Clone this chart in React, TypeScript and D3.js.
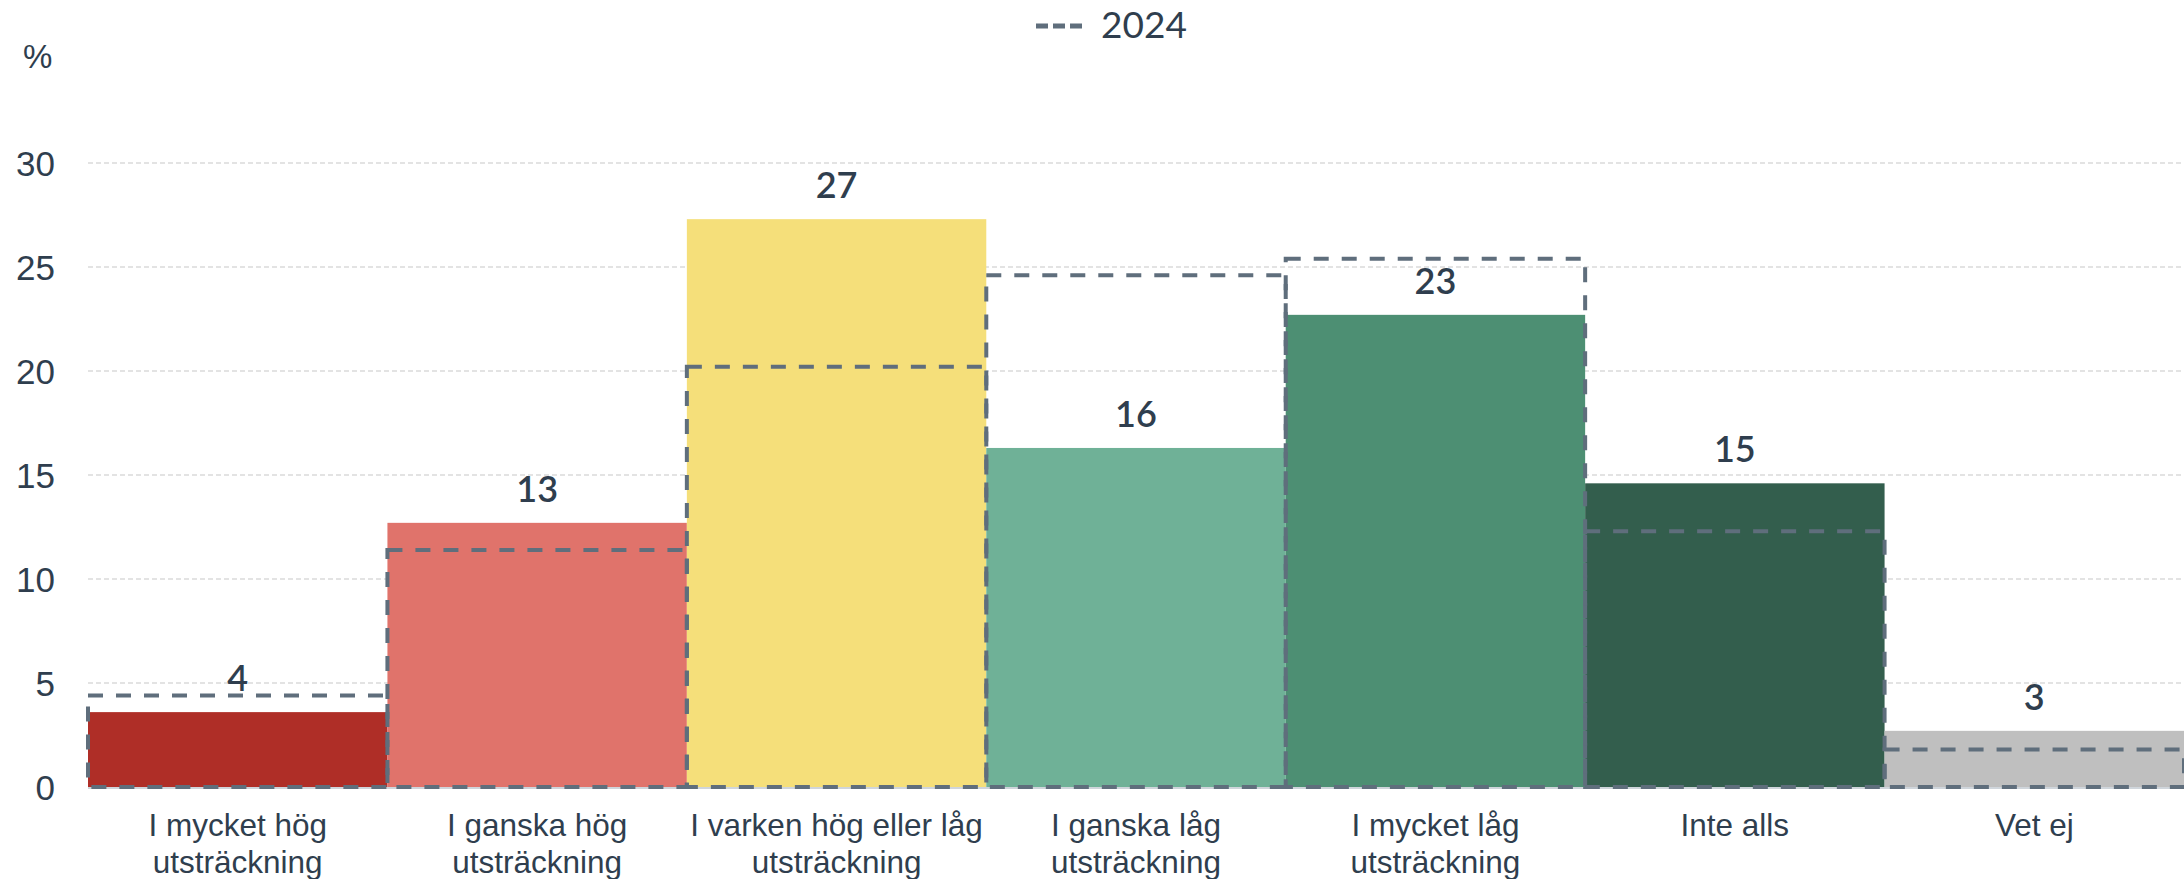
import * as d3 from 'd3';

const categories = [
  ['I mycket hög', 'utsträckning'],
  ['I ganska hög', 'utsträckning'],
  ['I varken hög eller låg', 'utsträckning'],
  ['I ganska låg', 'utsträckning'],
  ['I mycket låg', 'utsträckning'],
  ['Inte alls'],
  ['Vet ej'],
];
const values2025 = [3.6, 12.7, 27.3, 16.3, 22.7, 14.6, 2.7];
const values2024 = [4.4, 11.4, 20.2, 24.6, 25.4, 12.3, 1.8];
const barColors = ['#af2e27', '#e0736b', '#f5df7a', '#6fb197', '#4d8f73', '#335e4d', '#bfbfbf'];
const yTicks = [0, 5, 10, 15, 20, 25, 30];
const legendLabel = '2024';

const W = 2184;
const H = 879;
const textColor = '#2f3e4e';
const dashColor = '#5f6e7c';

export default function App() {
  const idx = categories.map((_, i) => i);
  const x = d3.scaleBand<number>().domain(idx).range([88, W]).padding(0);
  const y = d3.scaleLinear().domain([0, 30]).range([787, 163]);
  const bw = x.bandwidth();

  return (
    <svg
      width={W}
      height={H}
      style={{ position: 'absolute', left: 0, top: 0, display: 'block', background: '#fff' }}
    >
      {/* legend */}
      <line x1={1036} x2={1082} y1={26} y2={26} stroke={dashColor} strokeWidth={5} strokeDasharray="12,5" />
      <text x={1101} y={38} fontFamily="Lato, 'Open Sans', sans-serif" fontSize={37} fill={textColor}>
        {legendLabel}
      </text>

      <text x={23} y={68} fontFamily="'Liberation Sans', Arial, sans-serif" fontSize={33} fill={textColor}>
        %
      </text>

      {/* gridlines + y ticks */}
      {yTicks.map((t) => (
        <g key={t}>
          {t > 0 && (
            <line x1={88} x2={W} y1={y(t)} y2={y(t)} stroke="#c8c8c8" strokeWidth={1.2} strokeDasharray="5,3" />
          )}
          <text
            x={55}
            y={y(t)}
            dy="0.36em"
            textAnchor="end"
            fontFamily="'Liberation Sans', Arial, sans-serif"
            fontSize={35}
            fill={textColor}
          >
            {t}
          </text>
        </g>
      ))}

      {/* bars */}
      {values2025.map((v, i) => (
        <rect key={i} x={x(i)!} y={y(v)} width={bw} height={y(0) - y(v)} fill={barColors[i]} />
      ))}

      {/* baseline */}
      <line x1={88} x2={W} y1={y(0) + 1} y2={y(0) + 1} stroke="#cfd5db" strokeWidth={2} />

      {/* 2024 dashed outlines */}
      {values2024.map((v, i) => (
        <rect
          key={i}
          x={x(i)!}
          y={y(v)}
          width={bw}
          height={y(0) - y(v)}
          fill="none"
          stroke={dashColor}
          strokeWidth={4}
          strokeDasharray="15,13"
        />
      ))}

      {/* value labels */}
      {values2025.map((v, i) => (
        <text
          key={i}
          x={x(i)! + bw / 2}
          y={y(v) - 21}
          textAnchor="middle"
          fontFamily="Lato, 'Open Sans', sans-serif"
          fontWeight={600}
          fontSize={36}
          fill={textColor}
        >
          {Math.round(v)}
        </text>
      ))}

      {/* category labels */}
      {categories.map((lines, i) => (
        <text
          key={i}
          x={x(i)! + bw / 2}
          textAnchor="middle"
          fontFamily="'Liberation Sans', Arial, sans-serif"
          fontSize={31.5}
          fill={textColor}
        >
          {lines.map((l, j) => (
            <tspan key={j} x={x(i)! + bw / 2} y={836 + j * 37}>
              {l}
            </tspan>
          ))}
        </text>
      ))}
    </svg>
  );
}
